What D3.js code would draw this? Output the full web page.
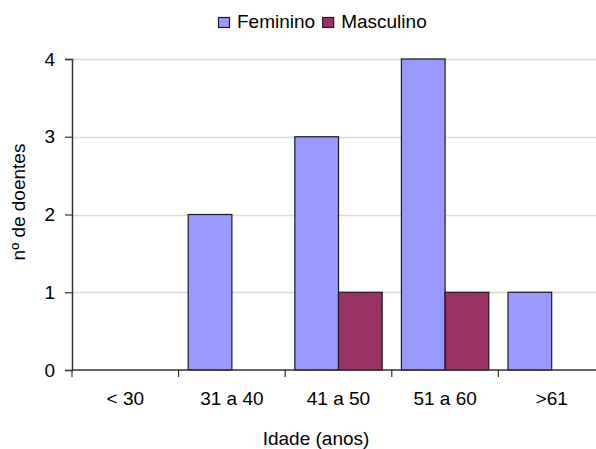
<!DOCTYPE html>
<html>
<head>
<meta charset="utf-8">
<script src="https://cdn.jsdelivr.net/npm/d3@7"></script>
<style>
  html, body { margin: 0; padding: 0; background: #fff; overflow: hidden; }
  svg { display: block; font-family: "Liberation Sans", Arial, sans-serif; }
</style>
</head>
<body>
<svg id="chart" width="596" height="449"></svg>
<script>
// Patients by age group and sex
const categories = ["< 30", "31 a 40", "41 a 50", "51 a 60", ">61"];
const series = ["Feminino", "Masculino"];
const feminino = [0, 2, 3, 4, 1];
const masculino = [0, 0, 1, 1, 0];
const yTicks = [0, 1, 2, 3, 4];
const colors = ["#9999FF", "#993366"];

const W = 596, H = 449;
const FS = 19;
const svg = d3.select("#chart");
const margin = { left: 72, top: 59 };
const plotW = 533, plotH = 311;

const g = svg.append("g").attr("transform", `translate(${margin.left},${margin.top})`);

const x = d3.scaleBand().domain(categories).range([0, plotW]).paddingInner(0).paddingOuter(0);
const xSub = d3.scaleBand().domain(series).range([0, x.bandwidth()]).paddingInner(0).paddingOuter(0.22);
const y = d3.scaleLinear().domain([0, 4]).range([plotH, 0]);

// gridlines
g.append("g").selectAll("line").data(yTicks.filter(d => d > 0)).join("line")
  .attr("x1", 0).attr("x2", plotW)
  .attr("y1", d => Math.round(y(d)) + 0.5).attr("y2", d => Math.round(y(d)) + 0.5)
  .attr("stroke", "#d9d9d9").attr("stroke-width", 1.5);

// bars
const rows = categories.map((c, i) => ({ cat: c, vals: [feminino[i], masculino[i]] }));
const groups = g.append("g").selectAll("g").data(rows).join("g")
  .attr("transform", d => `translate(${x(d.cat)},0)`);
groups.selectAll("rect")
  .data(d => d.vals.map((v, j) => ({ s: series[j], v, j })).filter(e => e.v > 0))
  .join("rect")
  .attr("x", d => xSub(d.s))
  .attr("width", xSub.bandwidth())
  .attr("y", d => y(d.v))
  .attr("height", d => y(0) - y(d.v))
  .attr("fill", d => colors[d.j])
  .attr("stroke", "#1a1a1a").attr("stroke-width", 1.2);

// y axis
const yAxis = g.append("g").call(d3.axisLeft(y).tickValues(yTicks).tickSize(7).tickPadding(10).tickFormat(d3.format("d")));
yAxis.select(".domain").attr("stroke", "#333").attr("stroke-width", 1.5);
yAxis.selectAll(".tick line").attr("stroke", "#333").attr("stroke-width", 1.2);
yAxis.selectAll("text").attr("font-size", FS).attr("fill", "#000")
  .attr("font-family", "Liberation Sans, Arial, sans-serif");

// x axis with ticks at category boundaries
const xAxisG = g.append("g").attr("transform", `translate(0,${plotH})`);
xAxisG.append("line").attr("x1", 0).attr("x2", plotW).attr("y1", 0).attr("y2", 0)
  .attr("stroke", "#333").attr("stroke-width", 1.5);
xAxisG.selectAll("line.tk").data(categories).join("line").attr("class", "tk")
  .attr("x1", d => x(d)).attr("x2", d => x(d))
  .attr("y1", 0).attr("y2", 7).attr("stroke", "#333").attr("stroke-width", 1.2);
xAxisG.selectAll("text").data(categories).join("text")
  .attr("x", d => x(d) + x.bandwidth() / 2).attr("y", 35)
  .attr("text-anchor", "middle").attr("font-size", FS).attr("fill", "#000")
  .text(d => d);

// axis titles
svg.append("text").attr("x", 316).attr("y", 445).attr("text-anchor", "middle")
  .attr("font-size", FS).attr("fill", "#000").text("Idade (anos)");
svg.append("text").attr("transform", "translate(25,202) rotate(-90)").attr("text-anchor", "middle")
  .attr("font-size", FS).attr("fill", "#000").text("nº de doentes");

// legend, laid out left to right
const legend = svg.append("g");
let lx = 218;
series.forEach((name, i) => {
  legend.append("rect").attr("x", lx + 0.5).attr("y", 17.5).attr("width", 11).attr("height", 10)
    .attr("fill", colors[i]).attr("stroke", "#1a1a1a").attr("stroke-width", 1.2);
  const t = legend.append("text").attr("x", lx + 19).attr("y", 28)
    .attr("font-size", FS).attr("fill", "#000").text(name);
  lx += 19 + t.node().getComputedTextLength() + 7;
});
</script>
</body>
</html>
